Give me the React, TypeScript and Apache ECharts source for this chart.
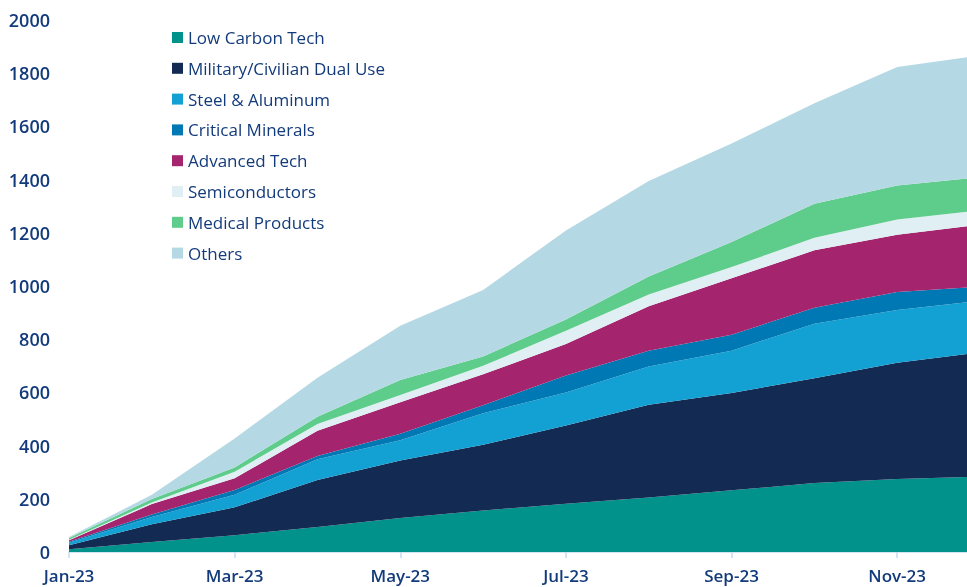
import React, { useEffect, useRef } from "react";
import * as echarts from "echarts";

const months = ["Jan-23", "Feb-23", "Mar-23", "Apr-23", "May-23", "Jun-23", "Jul-23", "Aug-23", "Sep-23", "Oct-23", "Nov-23", "Dec-23"];

const lowCarbon = [10, 38, 63, 94, 128, 156, 181, 205, 232, 259, 274, 283];
const military = [15, 66, 105, 177, 216, 247, 295, 349, 366, 394, 437, 468];
const steel = [10, 28, 47, 78, 76, 119, 124, 143, 159, 205, 199, 193];
const critical = [4, 9, 18, 12, 25, 30, 64, 60, 60, 60, 67, 54];
const advanced = [5, 39, 44, 95, 118, 116, 118, 167, 212, 216, 216, 232];
const semis = [2, 6, 25, 25, 27, 32, 50, 44, 42, 47, 57, 55];
const medical = [7, 13, 16, 27, 57, 35, 42, 68, 94, 128, 128, 124];
const others = [3, 16, 109, 147, 204, 250, 335, 359, 371, 378, 445, 458];

const seriesNames = ["Low Carbon Tech", "Military/Civilian Dual Use", "Steel & Aluminum", "Critical Minerals", "Advanced Tech", "Semiconductors", "Medical Products", "Others"];
const seriesData = [lowCarbon, military, steel, critical, advanced, semis, medical, others];
const colors = ["#00928B", "#132A52", "#13A1D4", "#0078B4", "#A4246D", "#E0EFF3", "#5ECC8A", "#B5D9E4"];

const TEXT = "#133B7B";
const FONT = "Open Sans";

export default function App() {
  const ref = useRef<HTMLDivElement>(null);
  useEffect(() => {
    if (!ref.current) return;
    const chart = echarts.init(ref.current, undefined, { renderer: "svg" });
    chart.setOption({
      animation: false,
      color: colors,
      grid: { left: 69, right: 0, top: 20, bottom: 35 },
      legend: {
        orient: "vertical",
        left: 167,
        top: 23,
        itemWidth: 11,
        itemHeight: 11,
        itemGap: 11.8,
        icon: "rect",
        data: seriesNames,
        textStyle: { color: TEXT, fontFamily: FONT, fontSize: 17, fontWeight: 500, lineHeight: 19 },
      },
      xAxis: {
        type: "category",
        data: months,
        boundaryGap: false,
        axisLine: { lineStyle: { color: "#C5DBF3", width: 1.5 } },
        axisTick: { interval: 1, length: 6, lineStyle: { color: "#C5DBF3", width: 1.5 } },
        axisLabel: { interval: 1, color: TEXT, fontFamily: FONT, fontSize: 17, fontWeight: 600, margin: 15 },
        splitLine: { show: false },
      },
      yAxis: {
        type: "value",
        min: 0,
        max: 2000,
        interval: 200,
        axisLine: { show: false },
        axisTick: { show: false },
        splitLine: { show: false },
        axisLabel: { color: TEXT, fontFamily: FONT, fontSize: 18, fontWeight: 600, margin: 19, formatter: (v: number) => String(v) },
      },
      series: seriesNames.map((name, i) => ({
        name,
        type: "line",
        stack: "total",
        data: seriesData[i],
        symbol: "none",
        lineStyle: { width: 0 },
        areaStyle: { color: colors[i], opacity: 1 },
        itemStyle: { color: colors[i] },
      })),
    });
    return () => chart.dispose();
  }, []);
  return (
    <div style={{ position: "fixed", left: 0, top: 0, width: 967, height: 587, overflow: "hidden" }}>
      <div ref={ref} style={{ width: 980, height: 587 }} />
    </div>
  );
}
